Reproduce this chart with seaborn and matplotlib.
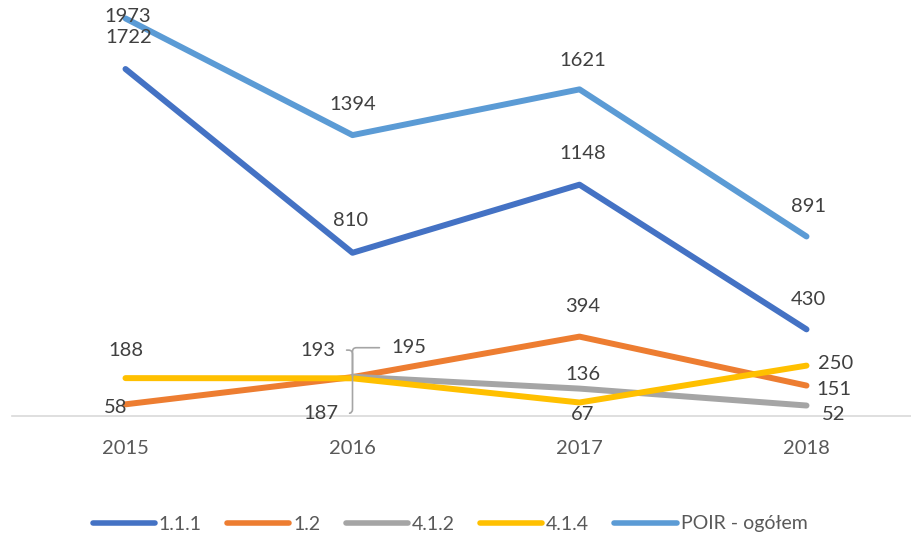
import numpy as np
import pandas as pd
import seaborn as sns
import matplotlib.pyplot as plt
from matplotlib.ticker import FixedLocator

# Données
annees = ["2015", "2016", "2017", "2018"]
s_111 = [1722, 810, 1148, 430]
s_12 = [58, 193, 394, 151]
s_412 = [np.nan, 195, 136, 52]
s_414 = [188, 187, 67, 250]
s_poir = [1973, 1394, 1621, 891]
series = ["1.1.1", "1.2", "4.1.2", "4.1.4", "POIR - ogółem"]
couleurs = ["#4472C4", "#ED7D31", "#A5A5A5", "#FFC000", "#5B9BD5"]

valeurs = [s_111, s_12, s_412, s_414, s_poir]
df = pd.DataFrame({
    "Rok": annees * len(series),
    "Seria": [s for s in series for _ in annees],
    "Wartosc": [v for vals in valeurs for v in vals],
})
df["x"] = df["Rok"].map({a: i for i, a in enumerate(annees)})

sns.set_style("white")
plt.rcParams["font.family"] = ["Lato", "DejaVu Sans"]

fig = plt.figure(figsize=(9.11, 5.43), dpi=100)
ax = fig.add_axes([12 / 911, 127 / 543, 908 / 911, 403 / 543])

sns.lineplot(data=df.dropna(), x="x", y="Wartosc", hue="Seria", hue_order=series,
             palette=couleurs, linewidth=4.3, ax=ax, legend=True,
             solid_capstyle="round", sort=False)

ax.set_xlim(-0.5, 3.5)
ax.set_ylim(0, 2000)
ax.set_xlabel("")
ax.set_ylabel("")
ax.set_yticks([])
ax.xaxis.set_major_locator(FixedLocator(range(4)))
ax.set_xticklabels(annees, fontsize=14.5, color="#595959")
ax.xaxis.set_minor_locator(FixedLocator([-0.5, 0.5, 1.5, 2.5, 3.5]))
ax.tick_params(axis="x", which="major", length=0, pad=17)
ax.tick_params(axis="x", which="minor", length=6, color="#D9D9D9", width=1.2)
for s in ["top", "right", "left"]:
    ax.spines[s].set_visible(False)
ax.spines["bottom"].set_color("#D9D9D9")
ax.spines["bottom"].set_linewidth(1.2)

# Etiquettes (décalages en pixels)
offsets = {
    "1.1.1": [(3, 32), (-2, 32), (3, 31), (2, 30)],
    "1.2": [(-10, -3), (-35, 27), (3, 30), (27, -4)],
    "4.1.2": [None, (56, 29), (3, 14), (27, -9)],
    "4.1.4": [(0, 28), (-32, -35), (3, -12), (29, 2)],
    "POIR - ogółem": [(2, 2), (0, 31), (3, 29), (2, 30)],
}
leaders = {("1.2", 1): (1, 0.5), ("4.1.2", 1): (0, 0.5), ("4.1.4", 1): (1, 0.5)}
for nom, vals in zip(series, valeurs):
    for i, v in enumerate(vals):
        off = offsets[nom][i]
        if off is None or np.isnan(v):
            continue
        kw = {}
        if (nom, i) in leaders:
            kw["arrowprops"] = dict(arrowstyle="-", color="#A5A5A5", lw=1.2,
                                    shrinkA=6, shrinkB=0,
                                    relpos=leaders[(nom, i)],
                                    connectionstyle="angle,angleA=0,angleB=90,rad=4")
        ax.annotate(f"{int(v)}", xy=(i, v), xytext=off, textcoords="offset pixels",
                    ha="center", va="center", fontsize=14.5, color="#404040", **kw)

h, l = ax.get_legend_handles_labels()
ax.legend_.remove()
for hh in h:
    hh.set_linewidth(4)
    hh.set_solid_capstyle("round")
fig.legend(h, l, loc="center", bbox_to_anchor=(0.494, 19 / 543), ncol=5, frameon=False,
           fontsize=14, handlelength=3.2, columnspacing=1.3, handletextpad=0.2,
           labelcolor="#595959")

plt.savefig("out.png", dpi=100)
